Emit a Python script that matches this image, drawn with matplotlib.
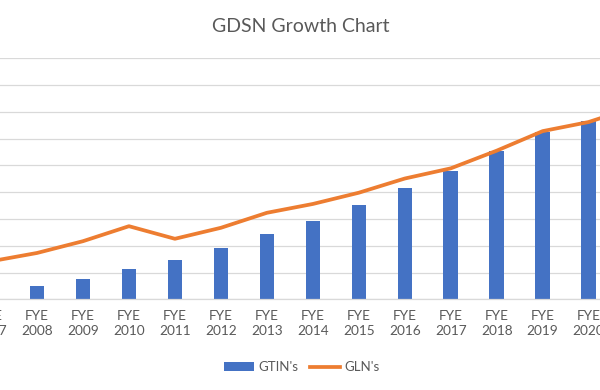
import matplotlib
matplotlib.use("Agg")
import matplotlib.pyplot as plt
from matplotlib.patches import Patch
from matplotlib.lines import Line2D
import numpy as np

categories = ["FYE\n2007", "FYE\n2008", "FYE\n2009", "FYE\n2010", "FYE\n2011", "FYE\n2012",
              "FYE\n2013", "FYE\n2014", "FYE\n2015", "FYE\n2016", "FYE\n2017", "FYE\n2018",
              "FYE\n2019", "FYE\n2020", "FYE\n2021"]
gtins = [0.2, 0.5, 0.76, 1.13, 1.48, 1.92, 2.42, 2.94, 3.53, 4.17, 4.79, 5.54, 6.24, 6.67, 7.0]
glns = [1.42, 1.73, 2.17, 2.73, 2.26, 2.67, 3.23, 3.56, 3.98, 4.51, 4.89, 5.55, 6.28, 6.62, 7.18]

title = "GDSN Growth Chart"
series_names = ["GTIN's", "GLN's"]

blue = "#4472C4"
orange = "#ED7D31"
grey_text = "#595959"
grid_c = "#D9D9D9"

plt.rcParams['font.family'] = ['Lato', 'DejaVu Sans']

fig = plt.figure(figsize=(6, 3.9), dpi=100)
ax = fig.add_axes([0, (390 - 299.3) / 390, 1, (299.3 - 58.3) / 390])

x = np.arange(len(categories))
ax.bar(x, gtins, width=0.315, color=blue, zorder=2)
ax.plot(x, glns, color=orange, linewidth=2.7, solid_capstyle='round', zorder=3)

tick_fs = 9.8
tick_pad = 8
ax.set_xticks(x)
ax.set_xticklabels(categories, color=grey_text, fontsize=tick_fs, linespacing=1.3)
ax.tick_params(axis='x', length=0, pad=tick_pad)
ax.set_xlim(1 - 37 / 45.97, 1 + (600 - 37) / 45.97)
ax.set_ylim(0, 9)
ax.set_yticks(np.arange(0, 10, 1))
ax.yaxis.grid(True, color=grid_c, linewidth=0.9, zorder=0)
ax.set_axisbelow(True)
ax.tick_params(axis='y', left=False, labelleft=False)
for s in ["top", "left", "right"]:
    ax.spines[s].set_visible(False)
ax.spines["bottom"].set_color(grid_c)
ax.spines["bottom"].set_linewidth(0.9)

# the first category label sits just past the left edge; draw it so its visible part shows
ax.annotate(categories[0], xy=(x[0], 0), xycoords=ax.get_xaxis_transform(),
            xytext=(0, -tick_pad), textcoords='offset points', ha='center', va='top',
            fontsize=tick_fs, color=grey_text, linespacing=1.3, annotation_clip=False)

fig.text(0.502, 1 - 27 / 390, title, ha='center', va='center', fontsize=14, color=grey_text)

handles = [Patch(facecolor=blue, edgecolor='none'),
           Line2D([0], [0], color=orange, linewidth=2.7)]
fig.legend(handles, series_names, loc='center', bbox_to_anchor=(0.503, 1 - 367 / 390),
           ncol=2, frameon=False, fontsize=9.5, labelcolor=grey_text,
           handlelength=2.3, handleheight=0.6, handletextpad=0.3, columnspacing=0.9)

fig.savefig("out.png", dpi=100)
